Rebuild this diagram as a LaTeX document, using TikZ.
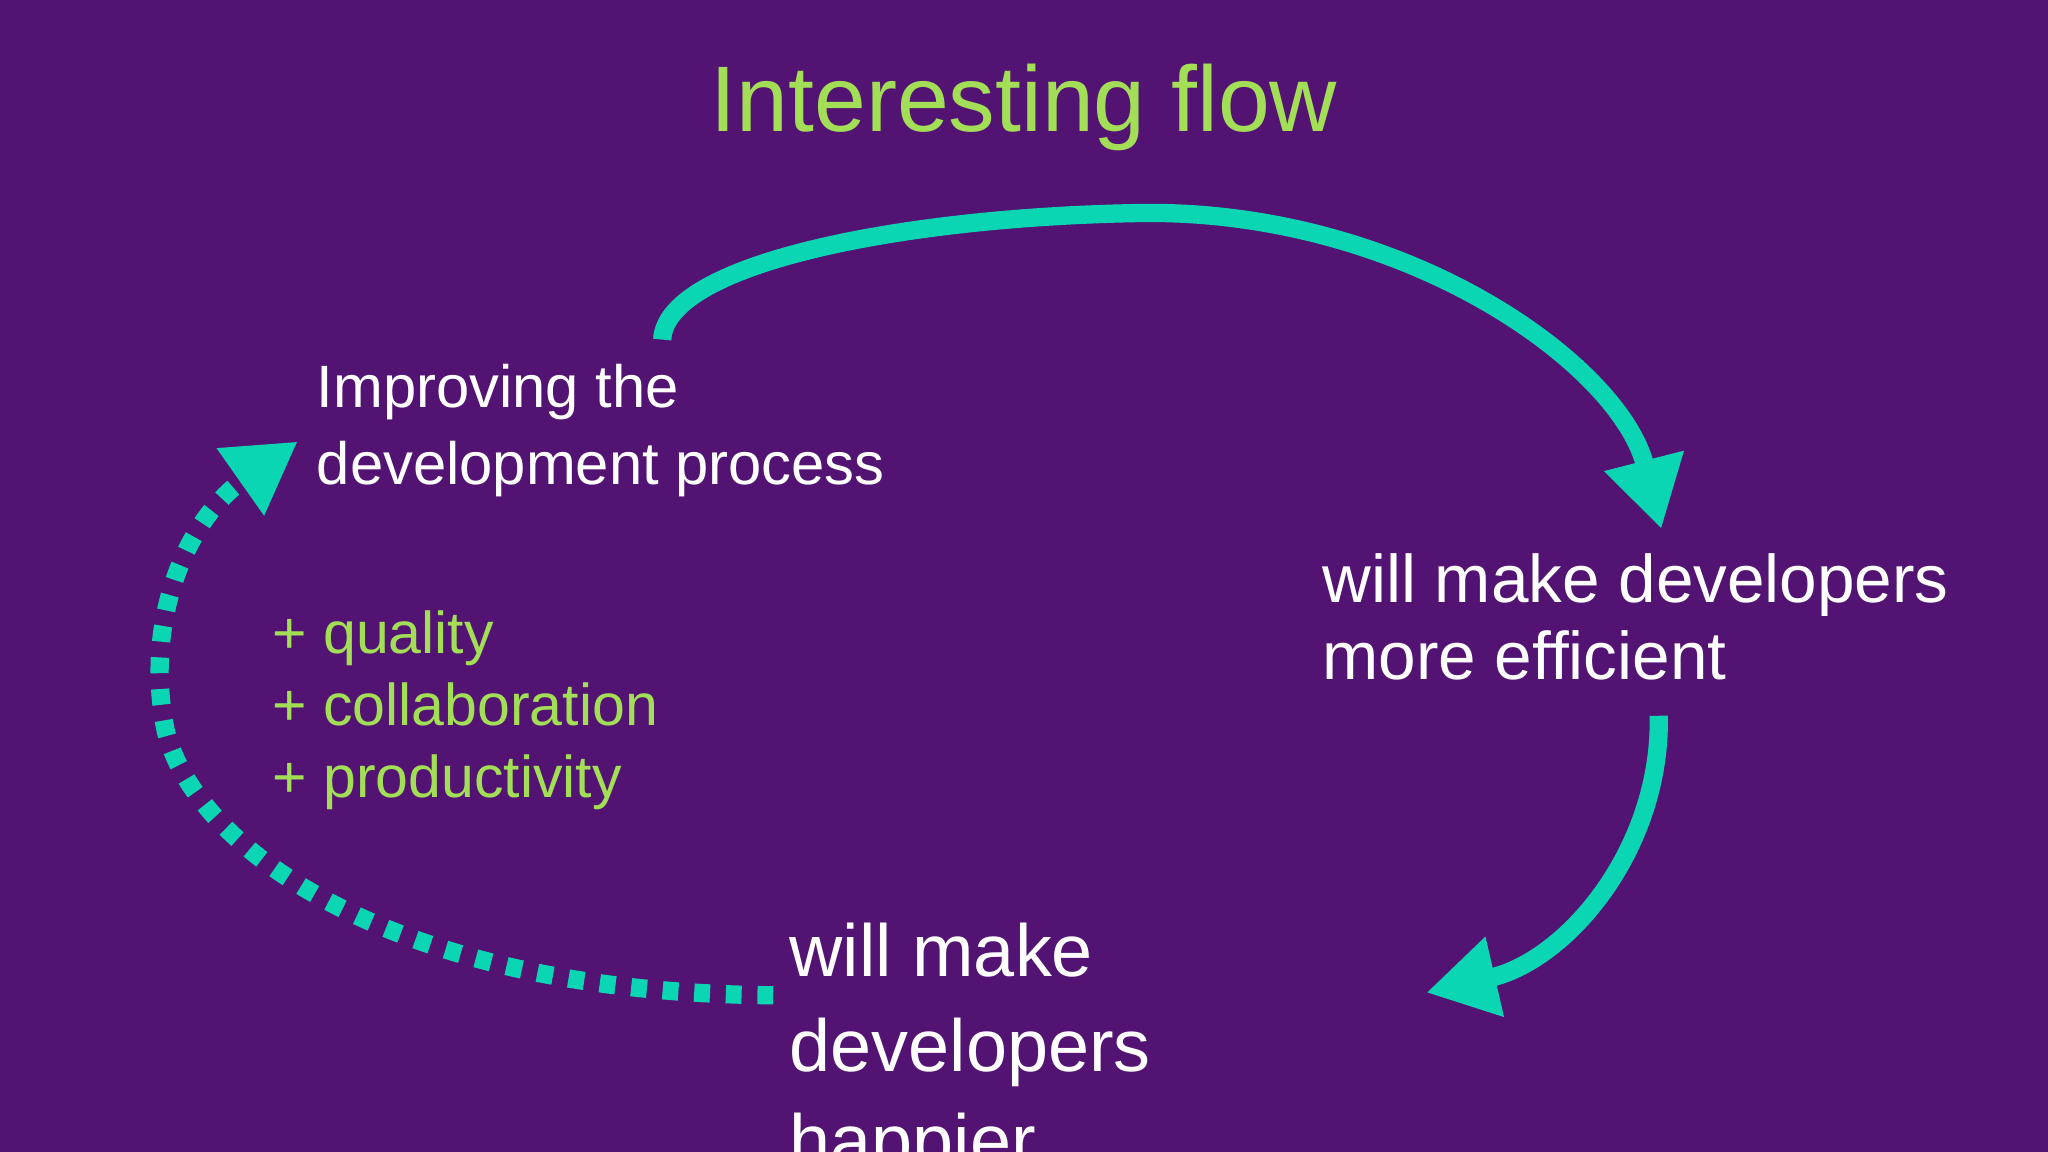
\documentclass[tikz,border=0pt]{standalone}
\usepackage{fontspec}
\setmainfont{Liberation Sans}
\usetikzlibrary{arrows.meta}
\definecolor{bg}{HTML}{531373}
\definecolor{lime}{HTML}{A3DE57}
\definecolor{teal}{HTML}{0BD6B4}
\begin{document}
\begin{tikzpicture}[x=0.013061cm,y=-0.013061cm,
  arr/.style={draw=teal,line width=5.2pt,-{Triangle[length=20pt,width=22pt]}},
  wtxt/.style={text=white,anchor=north west,align=left,inner sep=0pt}]
\clip (0,0) rectangle (1568,882);
\fill[bg] (0,0) rectangle (1568,882);
\node[text=lime,font=\fontsize{26.5pt}{30pt}\selectfont,inner sep=0pt] (title) at (784,82) {Interesting flow};
\node[wtxt,font=\fontsize{17pt}{22pt}\selectfont] (imp) at (242,278) {Improving the\\[0pt]development process};
\node[wtxt,font=\fontsize{19.2pt}{22pt}\selectfont] (eff) at (1012,423) {will make developers\\more efficient};
\node[wtxt,font=\fontsize{21pt}{27pt}\selectfont] (hap) at (604,706) {will make\\developers\\happier};
\node[wtxt,text=lime,font=\fontsize{16.8pt}{20.5pt}\selectfont] (plus) at (208,467) {+ quality\\+ collaboration\\+ productivity};
\coordinate (a1) at (507,260);
\coordinate (a2) at (1272,405);
\coordinate (b1) at (1270,548);
\coordinate (b2) at (1092,760);
\coordinate (c1) at (592,762);
\coordinate (c2) at (228,338);
\draw[arr] (a1) .. controls (510,200) and (700,165) .. (880,163) .. controls (1080,163) and (1240,280) .. (a2);
\draw[arr] (b1) .. controls (1272,650) and (1200,735) .. (b2);
\draw[arr,dash pattern=on 4.5pt off 4.5pt] (c1) .. controls (300,760) and (150,650) .. (127,560) .. controls (110,480) and (140,400) .. (c2);
\end{tikzpicture}
\end{document}
